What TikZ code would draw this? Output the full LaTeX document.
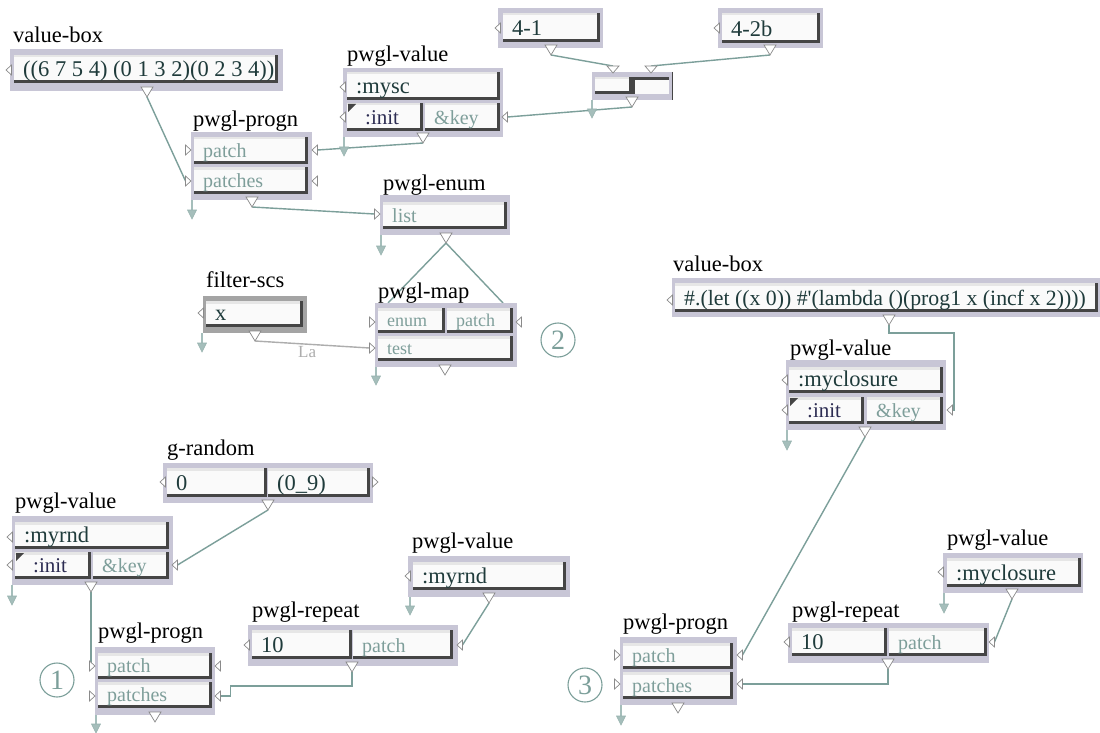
\documentclass[tikz,border=0pt]{standalone}
\usepackage{fontspec}
\setmainfont{Liberation Serif}
\pgfdeclarelayer{bg}
\pgfdeclarelayer{wires}
\pgfsetlayers{bg,wires,main}
\definecolor{frameC}{HTML}{C8C6D6}
\definecolor{frameG}{HTML}{A4A4A4}
\definecolor{cellC}{HTML}{FAFAFA}
\definecolor{cellTop}{HTML}{E6E6E6}
\definecolor{cellDark}{HTML}{454545}
\definecolor{wireC}{HTML}{7C9F9A}
\definecolor{wireG}{HTML}{ADADAD}
\definecolor{arrowC}{HTML}{A5BEBB}
\definecolor{portC}{HTML}{8A8A8A}
\definecolor{valC}{HTML}{1F3B3B}
\definecolor{kwC}{HTML}{2C2C52}
\definecolor{argC}{HTML}{7E9E9A}

% box frame: [colour]{name}{x1}{y1}{x2}{y2}
\newcommand\pwframe[6][frameC]{%
  \pgfmathsetmacro\pww{#5-#3}\pgfmathsetmacro\pwh{#6-#4}%
  \node[frameS,fill=#1,minimum width=\pww pt,minimum height=\pwh pt] (#2) at (#3,#4) {};}
% input cell: {name}{x1}{y1}{x2}{y2}{text style}{text}
\newcommand\pwcell[7]{%
  \pgfmathsetmacro\pww{#4-#2}\pgfmathsetmacro\pwh{#5-#3}%
  \node[cellS,minimum width=\pww pt,minimum height=\pwh pt] (#1) at (#2,#3) {};
  \node[#6,anchor=base west,inner sep=0] (#1-t) at ([shift={(9pt,6.5pt)}]#1.south west) {#7};}
% box title
\newcommand\pwlabel[4]{\node[lblS,anchor=base west,inner sep=0] (#1) at (#2,#3) {#4};}
% small triangles: tip x, centre y
\newcommand\portL[3]{%
  \draw[portS] (#2,#3) -- ({#2+5.5},{#3-5}) -- ({#2+5.5},{#3+5}) -- cycle;
  \coordinate (#1) at ({#2+5.5},#3);}
\newcommand\portR[3]{%
  \draw[portS] (#2,#3) -- ({#2-5.5},{#3-5}) -- ({#2-5.5},{#3+5}) -- cycle;
  \coordinate (#1) at ({#2-5.5},#3);}
% downward triangle: centre x, top y
\newcommand\portD[3]{%
  \draw[portS] ({#2-6},#3) -- ({#2+6},#3) -- (#2,{#3+10}) -- cycle;
  \coordinate (#1) at (#2,{#3+10});
  \coordinate (#1-top) at (#2,#3);}
\newcommand\portDs[3]{%
  \draw[portS] ({#2-6},#3) -- ({#2+6},#3) -- (#2,{#3+7}) -- cycle;
  \coordinate (#1) at (#2,{#3+7});
  \coordinate (#1-top) at (#2,#3);}
% result outlet: centre x, from y, to y
\newcommand\outArrow[3]{%
  \draw[arrowC,line width=1.6pt] (#1,#2) -- (#1,{#3-9});
  \filldraw[fill=arrowC,draw=wireC!80,line width=0.6pt] ({#1-4.5},{#3-9}) -- ({#1+4.5},{#3-9}) -- (#1,#3) -- cycle;}
\newcommand\initMark[2]{\fill[cellDark] (#1,#2) -- ({#1+8},#2) -- (#1,{#2+8}) -- cycle;}

\begin{document}
\begin{tikzpicture}[x=1pt,y=-1pt,
  frameS/.style={rectangle,inner sep=0,outer sep=0,anchor=north west,draw=none},
  cellS/.style={rectangle,inner sep=0,outer sep=0,anchor=north west,fill=cellC,
    path picture={
      \fill[cellTop] (path picture bounding box.north west) rectangle ([yshift=-2.5pt]path picture bounding box.north east);
      \fill[cellDark] (path picture bounding box.south west) rectangle ([yshift=3pt]path picture bounding box.south east);
      \fill[cellDark] ([xshift=-3pt]path picture bounding box.south east) rectangle (path picture bounding box.north east);}},
  cellInv/.style={rectangle,inner sep=0,outer sep=0,anchor=north west,fill=cellC,
    path picture={
      \fill[cellDark] (path picture bounding box.north west) rectangle ([yshift=-3pt]path picture bounding box.north east);
      \fill[cellDark] (path picture bounding box.south west) rectangle ([xshift=3pt]path picture bounding box.north west);}},
  lblS/.style={text=black,font=\fontsize{22.5}{24}\selectfont},
  valT/.style={text=valC,font=\fontsize{22.5}{24}\selectfont},
  valTs/.style={text=valC,font=\fontsize{21.8}{24}\selectfont},
  kwT/.style={text=kwC,font=\fontsize{21}{24}\selectfont},
  argT/.style={text=argC,font=\fontsize{20}{22}\selectfont},
  mapT/.style={text=argC,font=\fontsize{18}{20}\selectfont},
  portS/.style={draw=portC,fill=white,line width=0.7pt},
  wire/.style={draw=wireC,line width=1.4pt},
  wireLight/.style={draw=wireG,line width=1.4pt},
  circ/.style={circle,draw=wireC,line width=1.1pt,minimum size=34pt,inner sep=0,text=wireC,font=\fontsize{28}{30}\selectfont}]
\begin{pgfonlayer}{bg}
\fill[white] (0,0) rectangle (1100,733);
\end{pgfonlayer}
\useasboundingbox (0,0) rectangle (1100,733);

% ---- value-box with the pitch-class sets
\pwlabel{vb1-l}{13}{43}{value-box}
\pwframe{vb1}{10}{49}{283}{91}
\pwcell{vb1-c}{14}{55}{278}{83}{valT}{((6 7 5 4) (0 1 3 2)(0 2 3 4))}
\portL{vb1-in}{6}{70}
\portD{vb1-out}{147}{87}

% ---- pwgl-progn (upper)
\pwlabel{pg1-l}{193}{127}{pwgl-progn}
\pwframe{pg1}{191}{132}{312}{200}
\pwcell{pg1-a}{194}{137}{308}{164}{argT}{patch}
\pwcell{pg1-b}{194}{167}{308}{194}{argT}{patches}
\portR{pg1-ina}{191}{150}
\portR{pg1-inb}{191}{181}
\portL{pg1-ra}{312}{150}
\portL{pg1-rb}{312}{181}
\portD{pg1-out}{252}{197}
\outArrow{192}{200}{219}

% ---- pwgl-value :mysc
\pwlabel{pv1-l}{347}{62}{pwgl-value}
\pwframe{pv1}{343}{68}{503}{137}
\pwcell{pv1-a}{347}{72}{500}{100}{valT}{:mysc}
\pwcell{pv1-b}{347}{103}{423}{131}{kwT}{\hspace*{9pt}:init}
\pwcell{pv1-c}{425}{103}{500}{131}{argT}{\&key}
\initMark{348}{104}
\portL{pv1-ina}{340}{87}
\portL{pv1-inb}{340}{117}
\portL{pv1-key}{502}{117}
\portD{pv1-out}{423}{133}
\outArrow{344}{137}{156}

% ---- set-class boxes and the switch
\pwframe{b41}{498}{8}{603}{48}
\pwcell{b41-c}{503}{13}{600}{42}{valT}{4-1}
\portL{b41-in}{495}{28}
\portD{b41-out}{551}{45}

\pwframe{b42}{718}{8}{823}{48}
\pwcell{b42-c}{722}{13}{820}{43}{valT}{4-2b}
\portL{b42-in}{714}{28}
\portD{b42-out}{770}{45}

\pwframe{sw}{592}{72}{673}{100}
\pwcell{sw-a}{595}{77}{632}{94}{valT}{}
\node[cellInv,minimum width=37pt,minimum height=17pt] (sw-b) at (632,77) {};
\draw[cellDark,line width=1.2pt] (672.4,72) -- (672.4,100);
\portDs{sw-ina}{613}{66}
\portDs{sw-inb}{651}{66}
\portD{sw-out}{632}{97}
\outArrow{592}{100}{118}

% ---- pwgl-enum
\pwlabel{pe-l}{383}{190}{pwgl-enum}
\pwframe{pe}{380}{195}{510}{235}
\pwcell{pe-c}{383}{202}{507}{229}{argT}{list}
\portR{pe-in}{380}{214}
\portD{pe-out}{446}{233}
\outArrow{381}{235}{255}

% ---- filter-scs abstraction
\pwlabel{fs-l}{206}{287}{filter-scs}
\pwframe[frameG]{fs}{203}{296}{307}{333}
\pwcell{fs-c}{206}{301}{303}{327}{valT}{x}
\portL{fs-in}{198}{313}
\portD{fs-out}{255}{331}
\outArrow{202}{333}{352}

% ---- pwgl-map
\pwlabel{pm-l}{378}{298}{pwgl-map}
\pwframe{pm}{375}{303}{517}{367}
\pwcell{pm-a}{378}{308}{445}{333}{mapT}{enum}
\pwcell{pm-b}{447}{308}{513}{333}{mapT}{patch}
\pwcell{pm-c}{378}{336}{513}{361}{mapT}{test}
\portR{pm-ina}{375}{322}
\portR{pm-inc}{375}{348}
\portL{pm-inb}{516}{322}
\portD{pm-out}{445}{365}
\outArrow{376}{367}{385}
\coordinate (pm-nw) at (388,303);
\coordinate (pm-ne) at (503,303);
\node[circ] (n2) at (558,340) {2};

% ---- value-box with the closure
\pwlabel{vb2-l}{673}{271}{value-box}
\pwframe{vb2}{672}{278}{1100}{317}
\pwcell{vb2-c}{675}{283}{1098}{312}{valTs}{\#.(let ((x 0)) \#\textquotesingle(lambda ()(prog1 x (incf x 2))))}
\portL{vb2-in}{667}{300}
\portD{vb2-out}{889}{315}

% ---- pwgl-value :myclosure
\pwlabel{pv2-l}{790}{355}{pwgl-value}
\pwframe{pv2}{786}{360}{946}{430}
\pwcell{pv2-a}{789}{367}{943}{393}{valT}{:myclosure}
\pwcell{pv2-b}{789}{397}{864}{424}{kwT}{\hspace*{9pt}:init}
\pwcell{pv2-c}{867}{397}{943}{424}{argT}{\&key}
\initMark{790}{398}
\portL{pv2-ina}{782}{380}
\portL{pv2-inb}{782}{410}
\portL{pv2-key}{947}{410}
\portD{pv2-out}{865}{427}
\outArrow{787}{430}{450}

% ---- g-random
\pwlabel{gr-l}{167}{455}{g-random}
\pwframe{gr}{163}{463}{373}{503}
\pwcell{gr-a}{167}{468}{267}{497}{valT}{0}
\pwcell{gr-b}{268}{468}{370}{497}{valT}{(0\_9)}
\portL{gr-in}{160}{482}
\portR{gr-r}{378}{482}
\portD{gr-out}{268}{500}

% ---- pwgl-value :myrnd (definition)
\pwlabel{pv3-l}{15}{508}{pwgl-value}
\pwframe{pv3}{12}{516}{173}{585}
\pwcell{pv3-a}{15}{522}{169}{549}{valT}{:myrnd}
\pwcell{pv3-b}{15}{552}{91}{579}{kwT}{\hspace*{9pt}:init}
\pwcell{pv3-c}{93}{552}{169}{579}{argT}{\&key}
\initMark{16}{553}
\portL{pv3-ina}{7}{537}
\portL{pv3-inb}{7}{565}
\portL{pv3-key}{172}{565}
\portD{pv3-out}{91}{582}
\outArrow{12}{585}{605}

% ---- pwgl-progn (1)
\pwlabel{pg2-l}{98}{638}{pwgl-progn}
\pwframe{pg2}{95}{647}{215}{715}
\pwcell{pg2-a}{98}{653}{212}{679}{argT}{patch}
\pwcell{pg2-b}{98}{682}{212}{708}{argT}{patches}
\portR{pg2-ina}{95}{666}
\portR{pg2-inb}{95}{696}
\portL{pg2-ra}{215}{666}
\portL{pg2-rb}{215}{696}
\portD{pg2-out}{155}{712}
\outArrow{96}{715}{733}
\node[circ] (n1) at (57,680) {1};

% ---- pwgl-repeat (1)
\pwlabel{pr1-l}{252}{617}{pwgl-repeat}
\pwframe{pr1}{248}{625}{458}{666}
\pwcell{pr1-a}{252}{630}{352}{659}{valT}{10}
\pwcell{pr1-b}{353}{630}{453}{659}{argT}{patch}
\portL{pr1-in}{244}{645}
\portL{pr1-key}{457}{645}
\portD{pr1-out}{352}{662}

% ---- pwgl-value :myrnd (reference)
\pwlabel{pv4-l}{412}{548}{pwgl-value}
\pwframe{pv4}{408}{556}{570}{597}
\pwcell{pv4-a}{413}{562}{566}{590}{valT}{:myrnd}
\portL{pv4-in}{405}{576}
\portD{pv4-out}{489}{593}
\outArrow{410}{597}{615}

% ---- pwgl-value :myclosure (reference)
\pwlabel{pv5-l}{947}{545}{pwgl-value}
\pwframe{pv5}{943}{553}{1083}{593}
\pwcell{pv5-a}{947}{558}{1081}{587}{valT}{:myclosure}
\portL{pv5-in}{938}{572}
\portD{pv5-out}{1012}{589}
\outArrow{944}{593}{613}

% ---- pwgl-repeat (3)
\pwlabel{pr2-l}{792}{617}{pwgl-repeat}
\pwframe{pr2}{788}{623}{989}{663}
\pwcell{pr2-a}{792}{628}{887}{656}{valT}{10}
\pwcell{pr2-b}{889}{628}{987}{656}{argT}{patch}
\portL{pr2-in}{784}{642}
\portL{pr2-key}{989}{642}
\portD{pr2-out}{888}{659}

% ---- pwgl-progn (3)
\pwlabel{pg3-l}{623}{629}{pwgl-progn}
\pwframe{pg3}{620}{637}{737}{705}
\pwcell{pg3-a}{623}{643}{733}{669}{argT}{patch}
\pwcell{pg3-b}{623}{672}{733}{699}{argT}{patches}
\portR{pg3-ina}{620}{655}
\portR{pg3-inb}{620}{684}
\portL{pg3-ra}{737}{655}
\portL{pg3-rb}{737}{684}
\portD{pg3-out}{678}{703}
\outArrow{621}{705}{725}
\node[circ] (n3) at (585,685) {3};

% ---- connections
\begin{pgfonlayer}{wires}
\draw[wire] (vb1-out) -- (pg1-inb);
\draw[wire] (pv1-out) -- (pg1-ra);
\draw[wire] (sw-out) -- (pv1-key);
\draw[wire] (b41-out) -- (sw-ina-top);
\draw[wire] (b42-out) -- (sw-inb-top);
\draw[wire] (pg1-out) -- (pe-in);
\draw[wire] (pe-out) -- (pm-nw);
\draw[wire] (pe-out) -- (pm-ne);
\draw[wireLight] (fs-out) -- (pm-inc);
\draw[wire] (vb2-out) -- ++(0,8) -| ([xshift=1.5pt]pv2-key) -- (pv2-key);
\draw[wire] (pv2-out) -- (pg3-ra);
\draw[wire] (gr-out) -- (pv3-key);
\draw[wire] (pv3-out) -- (pv3-out |- pg2-ina);
\draw[wire] (pr1-out) -- ++(0,14) -| ([xshift=10pt]pg2-rb) -- (pg2-rb);
\draw[wire] (pv4-out) -- (pr1-key);
\draw[wire] (pv5-out) -- (pr2-key);
\draw[wire] (pr2-out) -- (pr2-out |- pg3-rb) -- (pg3-rb);
\end{pgfonlayer}
\node[text=wireG,font=\fontsize{17}{18}\selectfont,anchor=base west,inner sep=0] (la) at (298,357) {La};
\end{tikzpicture}
\end{document}
